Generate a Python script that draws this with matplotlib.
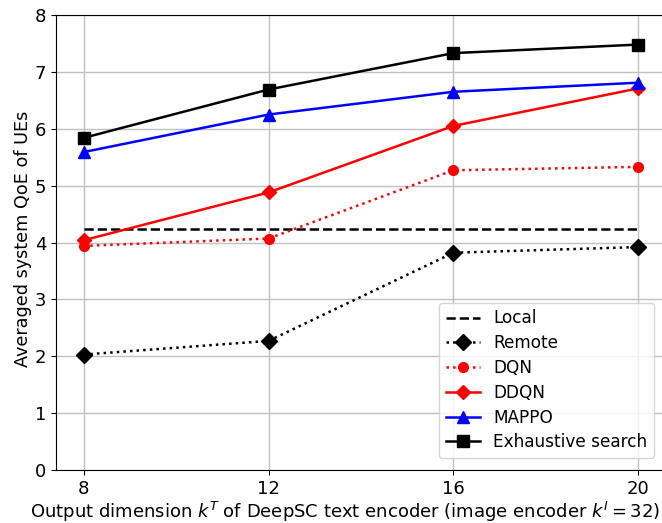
import matplotlib
matplotlib.use("Agg")
import matplotlib.pyplot as plt

x = [8, 12, 16, 20]
local = [4.23, 4.23, 4.23, 4.23]
remote = [2.03, 2.27, 3.82, 3.92]
dqn = [3.94, 4.07, 5.27, 5.33]
ddqn = [4.04, 4.88, 6.05, 6.71]
mappo = [5.59, 6.25, 6.65, 6.81]
exhaustive = [5.84, 6.69, 7.33, 7.48]

plt.rcParams['font.size'] = 13
fig = plt.figure(figsize=(6.62, 5.23), dpi=100)
ax = fig.add_axes([56/662, 1-470/523, (666-56)/662, (470-15)/523])

ax.plot(x, local, 'k--', lw=1.8, label='Local')
ax.plot(x, remote, 'k:', marker='D', ms=8, lw=1.8, label='Remote')
ax.plot(x, dqn, 'r:', marker='o', ms=7, lw=1.8, label='DQN')
ax.plot(x, ddqn, 'r-', marker='D', ms=7, lw=1.8, label='DDQN')
ax.plot(x, mappo, 'b-', marker='^', ms=8, lw=1.8, label='MAPPO')
ax.plot(x, exhaustive, 'k-', marker='s', ms=9, lw=1.8, label='Exhaustive search')

ax.set_xticks(x)
ax.set_ylim(0, 8)
ax.set_xlim(7.4, 20.6)
ax.tick_params(labelsize=13)
ax.grid(True, color='#c0c0c0', lw=1)
ax.set_axisbelow(True)
ax.set_xlabel(r'Output dimension $k^T$ of DeepSC text encoder (image encoder $k^I = 32$)', fontsize=13, labelpad=1.5)
ax.set_ylabel('Averaged system QoE of UEs', fontsize=12.7, labelpad=2)
ax.xaxis.label.set_x((345-56)/610)
ax.yaxis.label.set_y((470-239)/455)
ax.legend(loc='lower right', fontsize=12.2, labelspacing=0.4, borderaxespad=0.7)
fig.savefig('out.png', dpi=100)
